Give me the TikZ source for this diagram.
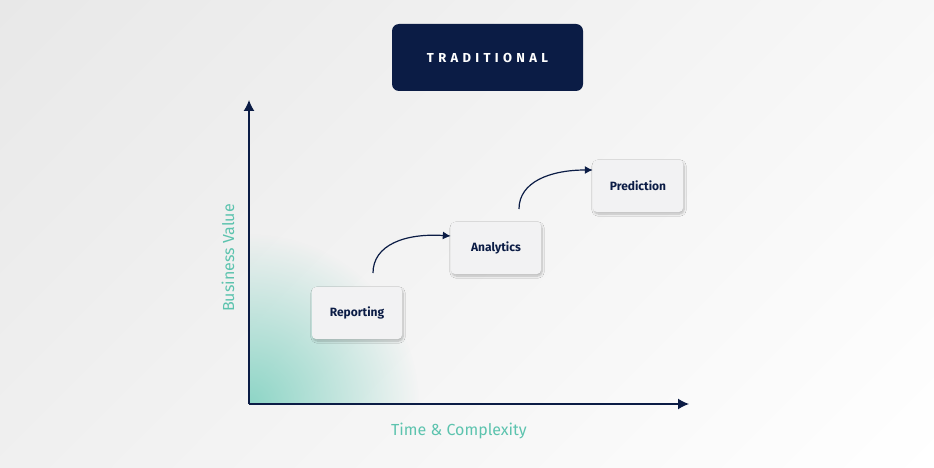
\documentclass[tikz,border=0pt]{standalone}
\usepackage{fontspec}
\setmainfont{Fira Sans}
\usetikzlibrary{shadows.blur,arrows.meta,fadings,shadings}
\definecolor{navy}{HTML}{0B1C45}
\definecolor{teal}{HTML}{5CC3AE}
\definecolor{boxfill}{HTML}{F2F2F3}
\tikzfading[name=fadeout, inner color=transparent!0, outer color=transparent!100]
\tikzset{
 stage/.style={draw=none,fill=boxfill,rounded corners=4pt,minimum width=90pt,minimum height=52pt,font=\bfseries\fontsize{12}{14}\selectfont,text=navy,blur shadow={shadow blur steps=8,shadow xshift=1pt,shadow yshift=-2pt,shadow opacity=25}},
 axis/.style={navy,line width=1.4pt,-{Latex[length=11pt,width=11pt]}},
 curv/.style={navy,line width=1.2pt,-{Latex[length=8pt,width=8pt]}},
 axlabel/.style={text=teal,font=\fontsize{16}{18}\selectfont}
}
\begin{document}
\begin{tikzpicture}[x=1pt,y=-1pt]
\shade[upper left=black!9,upper right=black!3,lower left=black!6,lower right=white] (0,0) rectangle (934,468);
\useasboundingbox (0,0) rectangle (934,468);
\begin{scope}
\clip (249,200) rectangle (460,404);
\fill[teal!70,path fading=fadeout] (249,404) circle (170);
\end{scope}
\node[fill=navy,rounded corners=7pt,minimum width=191pt,minimum height=67pt,text=white,font=\bfseries\fontsize{13}{15}\selectfont] (title) at (487.5,57.5) {T\,\,R\,\,A\,\,D\,\,I\,\,T\,\,I\,\,O\,\,N\,\,A\,\,L};
\coordinate (o) at (249,404);
\coordinate (ytop) at (249,100);
\coordinate (xend) at (689,404);
\draw[axis] (o) -- (ytop);
\draw[axis] (o) -- (xend);
\node[axlabel,rotate=90] (yl) at (228,258) {Business Value};
\node[axlabel] (xl) at (459,431) {Time \& Complexity};
\node[stage] (rep) at (357,313) {Reporting};
\node[stage] (ana) at (496,248) {Analytics};
\node[stage] (pre) at (638,186) {Prediction};
\coordinate (a1) at (373,273);
\coordinate (a2) at (519,209);
\draw[curv] (a1) .. controls (373,245) and (405,233) .. (ana.west |- 0,236) ;
\draw[curv] (a2) .. controls (519,182) and (550,170) .. (pre.west |- 0,170);
\end{tikzpicture}
\end{document}
